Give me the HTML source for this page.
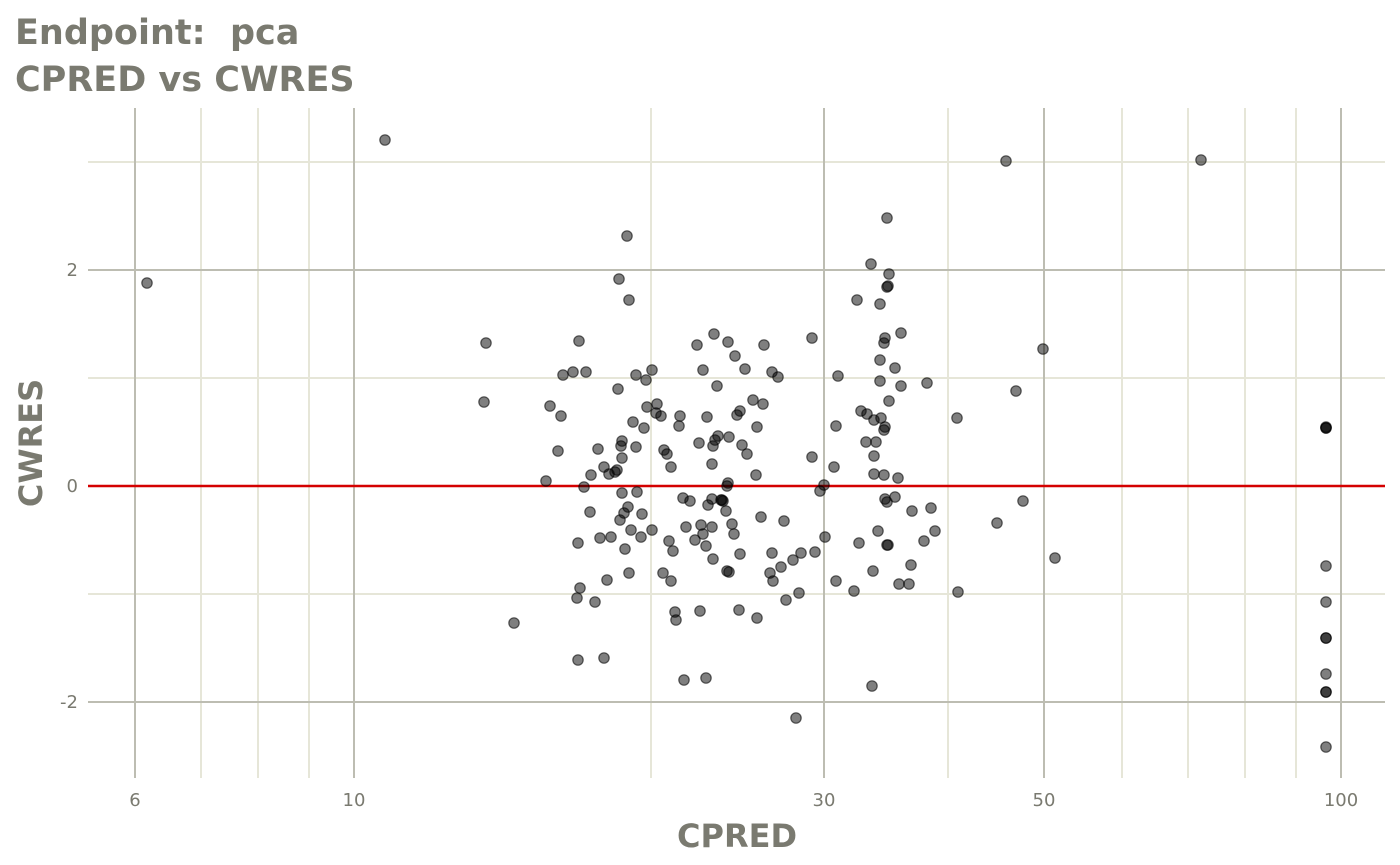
<!DOCTYPE html>
<html><head><meta charset="utf-8"><style>
body{margin:0;background:#fff}
svg{display:block}
text{font-family:"DejaVu Sans","Liberation Sans",sans-serif}
</style></head><body>
<svg width="1400" height="865" xmlns="http://www.w3.org/2000/svg">
<rect width="1400" height="865" fill="#fff"/>
<g stroke="#e6e6d8" stroke-width="2">
<line x1="88" x2="1385" y1="162" y2="162"/><line x1="88" x2="1385" y1="378" y2="378"/><line x1="88" x2="1385" y1="594" y2="594"/>
<line x1="201" x2="201" y1="108" y2="778"/><line x1="258" x2="258" y1="108" y2="778"/><line x1="309" x2="309" y1="108" y2="778"/>
<line x1="651" x2="651" y1="108" y2="778"/><line x1="948" x2="948" y1="108" y2="778"/><line x1="1122" x2="1122" y1="108" y2="778"/>
<line x1="1188" x2="1188" y1="108" y2="778"/><line x1="1245" x2="1245" y1="108" y2="778"/><line x1="1296" x2="1296" y1="108" y2="778"/>
</g>
<g stroke="#bdbdb2" stroke-width="2">
<line x1="88" x2="1385" y1="270" y2="270"/><line x1="88" x2="1385" y1="486" y2="486"/><line x1="88" x2="1385" y1="702" y2="702"/>
<line x1="135" x2="135" y1="108" y2="778"/><line x1="354" x2="354" y1="108" y2="778"/><line x1="824" x2="824" y1="108" y2="778"/>
<line x1="1044" x2="1044" y1="108" y2="778"/><line x1="1341" x2="1341" y1="108" y2="778"/>
</g>
<line x1="88" x2="1385" y1="486" y2="486" stroke="#d40000" stroke-width="2.5"/>
<g fill="rgba(0,0,0,0.5)" stroke="rgba(0,0,0,0.6)" stroke-width="1.2">
<circle cx="385" cy="140" r="5.2"/><circle cx="147" cy="283" r="5.2"/><circle cx="1006" cy="161" r="5.2"/><circle cx="1201" cy="160" r="5.2"/><circle cx="627" cy="236" r="5.2"/><circle cx="887" cy="218" r="5.2"/><circle cx="871" cy="264" r="5.2"/><circle cx="889" cy="274" r="5.2"/><circle cx="887" cy="287" r="5.2"/><circle cx="888" cy="286" r="5.2"/><circle cx="619" cy="279" r="5.2"/><circle cx="629" cy="300" r="5.2"/><circle cx="857" cy="300" r="5.2"/><circle cx="880" cy="304" r="5.2"/><circle cx="486" cy="343" r="5.2"/><circle cx="579" cy="341" r="5.2"/><circle cx="484" cy="402" r="5.2"/><circle cx="573" cy="372" r="5.2"/><circle cx="563" cy="375" r="5.2"/><circle cx="586" cy="372" r="5.2"/><circle cx="550" cy="406" r="5.2"/><circle cx="561" cy="416" r="5.2"/><circle cx="546" cy="481" r="5.2"/><circle cx="558" cy="451" r="5.2"/><circle cx="584" cy="487" r="5.2"/><circle cx="591" cy="475" r="5.2"/><circle cx="598" cy="449" r="5.2"/><circle cx="590" cy="512" r="5.2"/><circle cx="578" cy="543" r="5.2"/><circle cx="600" cy="538" r="5.2"/><circle cx="604" cy="467" r="5.2"/><circle cx="609" cy="474" r="5.2"/><circle cx="615" cy="472" r="5.2"/><circle cx="617" cy="470" r="5.2"/><circle cx="621" cy="446" r="5.2"/><circle cx="622" cy="441" r="5.2"/><circle cx="622" cy="458" r="5.2"/><circle cx="620" cy="520" r="5.2"/><circle cx="624" cy="513" r="5.2"/><circle cx="628" cy="507" r="5.2"/><circle cx="622" cy="493" r="5.2"/><circle cx="633" cy="422" r="5.2"/><circle cx="636" cy="447" r="5.2"/><circle cx="637" cy="492" r="5.2"/><circle cx="644" cy="428" r="5.2"/><circle cx="647" cy="407" r="5.2"/><circle cx="652" cy="370" r="5.2"/><circle cx="646" cy="380" r="5.2"/><circle cx="636" cy="375" r="5.2"/><circle cx="618" cy="389" r="5.2"/><circle cx="657" cy="404" r="5.2"/><circle cx="661" cy="416" r="5.2"/><circle cx="656" cy="413" r="5.2"/><circle cx="664" cy="450" r="5.2"/><circle cx="667" cy="454" r="5.2"/><circle cx="671" cy="467" r="5.2"/><circle cx="680" cy="416" r="5.2"/><circle cx="679" cy="426" r="5.2"/><circle cx="652" cy="530" r="5.2"/><circle cx="642" cy="514" r="5.2"/><circle cx="641" cy="537" r="5.2"/><circle cx="631" cy="530" r="5.2"/><circle cx="625" cy="549" r="5.2"/><circle cx="611" cy="537" r="5.2"/><circle cx="629" cy="573" r="5.2"/><circle cx="607" cy="580" r="5.2"/><circle cx="580" cy="588" r="5.2"/><circle cx="577" cy="598" r="5.2"/><circle cx="595" cy="602" r="5.2"/><circle cx="663" cy="573" r="5.2"/><circle cx="669" cy="541" r="5.2"/><circle cx="673" cy="551" r="5.2"/><circle cx="671" cy="581" r="5.2"/><circle cx="514" cy="623" r="5.2"/><circle cx="578" cy="660" r="5.2"/><circle cx="604" cy="658" r="5.2"/><circle cx="675" cy="612" r="5.2"/><circle cx="676" cy="620" r="5.2"/><circle cx="684" cy="680" r="5.2"/><circle cx="706" cy="678" r="5.2"/><circle cx="796" cy="718" r="5.2"/><circle cx="700" cy="611" r="5.2"/><circle cx="683" cy="498" r="5.2"/><circle cx="690" cy="501" r="5.2"/><circle cx="686" cy="527" r="5.2"/><circle cx="695" cy="540" r="5.2"/><circle cx="697" cy="345" r="5.2"/><circle cx="703" cy="370" r="5.2"/><circle cx="714" cy="334" r="5.2"/><circle cx="728" cy="342" r="5.2"/><circle cx="735" cy="356" r="5.2"/><circle cx="745" cy="369" r="5.2"/><circle cx="717" cy="386" r="5.2"/><circle cx="707" cy="417" r="5.2"/><circle cx="699" cy="443" r="5.2"/><circle cx="713" cy="446" r="5.2"/><circle cx="715" cy="440" r="5.2"/><circle cx="718" cy="436" r="5.2"/><circle cx="729" cy="437" r="5.2"/><circle cx="737" cy="415" r="5.2"/><circle cx="740" cy="411" r="5.2"/><circle cx="742" cy="445" r="5.2"/><circle cx="747" cy="454" r="5.2"/><circle cx="753" cy="400" r="5.2"/><circle cx="757" cy="427" r="5.2"/><circle cx="764" cy="345" r="5.2"/><circle cx="772" cy="372" r="5.2"/><circle cx="778" cy="377" r="5.2"/><circle cx="763" cy="404" r="5.2"/><circle cx="812" cy="338" r="5.2"/><circle cx="838" cy="376" r="5.2"/><circle cx="756" cy="475" r="5.2"/><circle cx="712" cy="464" r="5.2"/><circle cx="701" cy="525" r="5.2"/><circle cx="712" cy="527" r="5.2"/><circle cx="703" cy="534" r="5.2"/><circle cx="706" cy="546" r="5.2"/><circle cx="713" cy="559" r="5.2"/><circle cx="708" cy="505" r="5.2"/><circle cx="712" cy="499" r="5.2"/><circle cx="721" cy="500" r="5.2"/><circle cx="723" cy="501" r="5.2"/><circle cx="728" cy="483" r="5.2"/><circle cx="727" cy="486" r="5.2"/><circle cx="722" cy="500" r="5.2"/><circle cx="726" cy="511" r="5.2"/><circle cx="732" cy="524" r="5.2"/><circle cx="734" cy="534" r="5.2"/><circle cx="740" cy="554" r="5.2"/><circle cx="727" cy="571" r="5.2"/><circle cx="729" cy="572" r="5.2"/><circle cx="739" cy="610" r="5.2"/><circle cx="757" cy="618" r="5.2"/><circle cx="761" cy="517" r="5.2"/><circle cx="772" cy="553" r="5.2"/><circle cx="773" cy="581" r="5.2"/><circle cx="770" cy="573" r="5.2"/><circle cx="781" cy="567" r="5.2"/><circle cx="784" cy="521" r="5.2"/><circle cx="793" cy="560" r="5.2"/><circle cx="786" cy="600" r="5.2"/><circle cx="799" cy="593" r="5.2"/><circle cx="801" cy="553" r="5.2"/><circle cx="815" cy="552" r="5.2"/><circle cx="812" cy="457" r="5.2"/><circle cx="836" cy="426" r="5.2"/><circle cx="834" cy="467" r="5.2"/><circle cx="820" cy="491" r="5.2"/><circle cx="824" cy="485" r="5.2"/><circle cx="825" cy="537" r="5.2"/><circle cx="836" cy="581" r="5.2"/><circle cx="854" cy="591" r="5.2"/><circle cx="859" cy="543" r="5.2"/><circle cx="861" cy="411" r="5.2"/><circle cx="867" cy="414" r="5.2"/><circle cx="866" cy="442" r="5.2"/><circle cx="874" cy="420" r="5.2"/><circle cx="876" cy="442" r="5.2"/><circle cx="874" cy="456" r="5.2"/><circle cx="874" cy="474" r="5.2"/><circle cx="873" cy="571" r="5.2"/><circle cx="872" cy="686" r="5.2"/><circle cx="881" cy="418" r="5.2"/><circle cx="878" cy="531" r="5.2"/><circle cx="884" cy="475" r="5.2"/><circle cx="885" cy="427" r="5.2"/><circle cx="884" cy="430" r="5.2"/><circle cx="880" cy="360" r="5.2"/><circle cx="880" cy="381" r="5.2"/><circle cx="884" cy="343" r="5.2"/><circle cx="885" cy="338" r="5.2"/><circle cx="895" cy="368" r="5.2"/><circle cx="901" cy="333" r="5.2"/><circle cx="901" cy="386" r="5.2"/><circle cx="889" cy="401" r="5.2"/><circle cx="898" cy="478" r="5.2"/><circle cx="885" cy="499" r="5.2"/><circle cx="887" cy="502" r="5.2"/><circle cx="895" cy="497" r="5.2"/><circle cx="887" cy="545" r="5.2"/><circle cx="888" cy="545" r="5.2"/><circle cx="899" cy="584" r="5.2"/><circle cx="909" cy="584" r="5.2"/><circle cx="911" cy="565" r="5.2"/><circle cx="912" cy="511" r="5.2"/><circle cx="931" cy="508" r="5.2"/><circle cx="924" cy="541" r="5.2"/><circle cx="935" cy="531" r="5.2"/><circle cx="927" cy="383" r="5.2"/><circle cx="957" cy="418" r="5.2"/><circle cx="958" cy="592" r="5.2"/><circle cx="997" cy="523" r="5.2"/><circle cx="1016" cy="391" r="5.2"/><circle cx="1023" cy="501" r="5.2"/><circle cx="1043" cy="349" r="5.2"/><circle cx="1055" cy="558" r="5.2"/><circle cx="1326" cy="428" r="5.2"/><circle cx="1326" cy="427" r="5.2"/><circle cx="1326" cy="428" r="5.2"/><circle cx="1326" cy="566" r="5.2"/><circle cx="1326" cy="602" r="5.2"/><circle cx="1326" cy="638" r="5.2"/><circle cx="1326" cy="638" r="5.2"/><circle cx="1326" cy="674" r="5.2"/><circle cx="1326" cy="692" r="5.2"/><circle cx="1326" cy="692" r="5.2"/><circle cx="1326" cy="747" r="5.2"/>
</g>
<g fill="#7a7a70" font-size="18">
<text x="78" y="276" text-anchor="end">2</text><text x="78" y="492" text-anchor="end">0</text><text x="78" y="708" text-anchor="end">-2</text>
<text x="135" y="806" text-anchor="middle">6</text><text x="354" y="806" text-anchor="middle">10</text><text x="824" y="806" text-anchor="middle">30</text>
<text x="1044" y="806" text-anchor="middle">50</text><text x="1341" y="806" text-anchor="middle">100</text>
</g>
<g fill="#7a7a70" font-weight="bold">
<text x="15" y="44" font-size="35" xml:space="preserve">Endpoint:&#160; pca</text>
<text x="15" y="91" font-size="35">CPRED vs CWRES</text>
<text x="737" y="847" font-size="32" text-anchor="middle">CPRED</text>
<text transform="translate(42,443) rotate(-90)" font-size="32" text-anchor="middle">CWRES</text>
</g>
</svg>
</body></html>
